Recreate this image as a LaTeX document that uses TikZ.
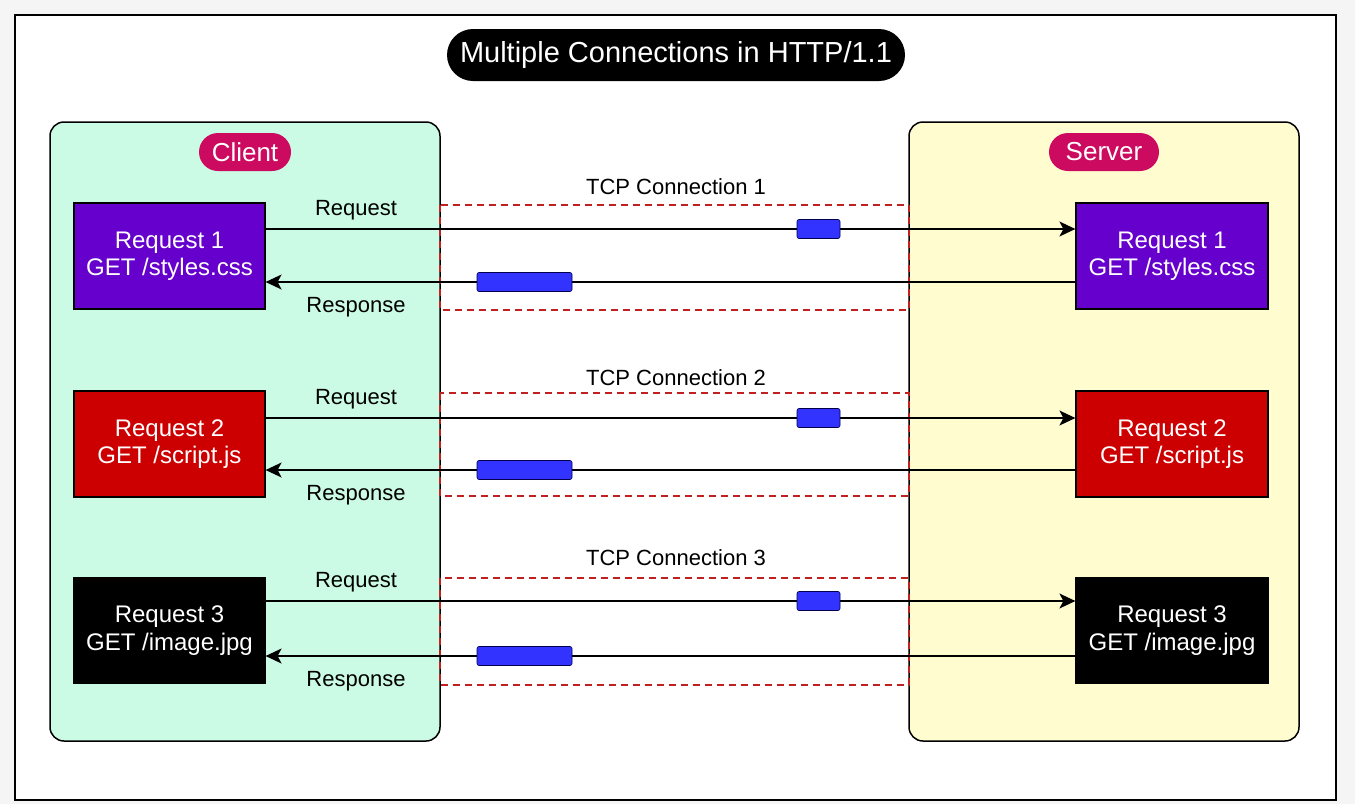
\documentclass[tikz,border=0pt]{standalone}
\usepackage{fontspec}
\setmainfont{Liberation Sans}
\usetikzlibrary{arrows.meta}
\definecolor{cbg}{HTML}{CCFBE5}
\definecolor{sbg}{HTML}{FFFDCF}
\definecolor{pill}{HTML}{CC0A5F}
\definecolor{pur}{HTML}{6600CC}
\definecolor{rd}{HTML}{CC0000}
\definecolor{pkt}{HTML}{3333FF}
\definecolor{dash}{HTML}{C02020}
\begin{document}
\begin{tikzpicture}[x=1pt,y=-1pt,
  box/.style={draw=black,line width=1.2pt,minimum width=191pt,minimum height=106pt,text=white,align=center,font=\fontsize{24}{28}\selectfont,inner sep=0},
  lbl/.style={font=\fontsize{22}{26}\selectfont},
  pk/.style={draw=black!70!blue,fill=pkt,rounded corners=2pt,line width=0.6pt,inner sep=0},
  ar/.style={line width=1.3pt,-{Stealth[length=16pt,width=15pt,inset=4pt]}},
  tcp/.style={draw=dash,dashed,dash pattern=on 7pt off 5pt,line width=1.2pt},
  pl/.style={fill=pill,text=white,rounded corners=19pt,minimum height=38pt,font=\fontsize{26}{30}\selectfont,inner sep=0}]
\fill[black!4] (0,0) rectangle (1355,804);
\useasboundingbox (0,0) rectangle (1355,804);
\draw[line width=2.5pt,fill=white] (15,15) rectangle (1336,800);
\node[fill=black,text=white,rounded corners=26pt,minimum width=458pt,minimum height=52pt,font=\fontsize{29}{34}\selectfont] (title) at (676,55) {Multiple Connections in HTTP/1.1};
\draw[line width=1.5pt,fill=cbg,rounded corners=14pt] (50,122) rectangle (440,741);
\draw[line width=1.5pt,fill=sbg,rounded corners=14pt] (909,122) rectangle (1299,741);
\node[pl,minimum width=92pt] (client) at (245,152) {Client};
\node[pl,minimum width=110pt] (server) at (1104,152) {Server};
\foreach \i/\cy/\col/\txt/\rq/\rs/\dt/\db/\tl in {1/256/pur/{GET /styles.css}/229/282/205/310/187, 2/444/rd/{GET /script.js}/418/470/393/496/378, 3/630.5/black/{GET /image.jpg}/601/656/578/685/558}{
  \draw[tcp] (440,\dt) rectangle (909,\db);
  \node[box,fill=\col,minimum width=191pt] (L\i) at (169.5,\cy) {\raisebox{-2pt}{\shortstack{Request \i\\[2pt]\txt}}};
  \node[box,fill=\col,minimum width=192pt] (R\i) at (1172,\cy) {\raisebox{-2pt}{\shortstack{Request \i\\[2pt]\txt}}};
  \coordinate (b\i) at (R\i.west |- 0,\rq);
  \coordinate (d\i) at (L\i.east |- 0,\rs);
  \draw[ar] (L\i.east |- 0,\rq) -- (b\i);
  \draw[ar] (R\i.west |- 0,\rs) -- (d\i);
  \node[pk,minimum width=43pt,minimum height=19pt] (p\i) at (818.5,\rq) {};
  \node[pk,minimum width=95pt,minimum height=19pt] (q\i) at (524.5,\rs) {};
  \node[lbl] (tc\i) at (676,\tl) {TCP Connection \i};
  \node[lbl] (rql\i) at (356,\rq-19) {Request};
  \node[lbl] (rsl\i) at (356,\rs+25) {Response};
}
\end{tikzpicture}
\end{document}
